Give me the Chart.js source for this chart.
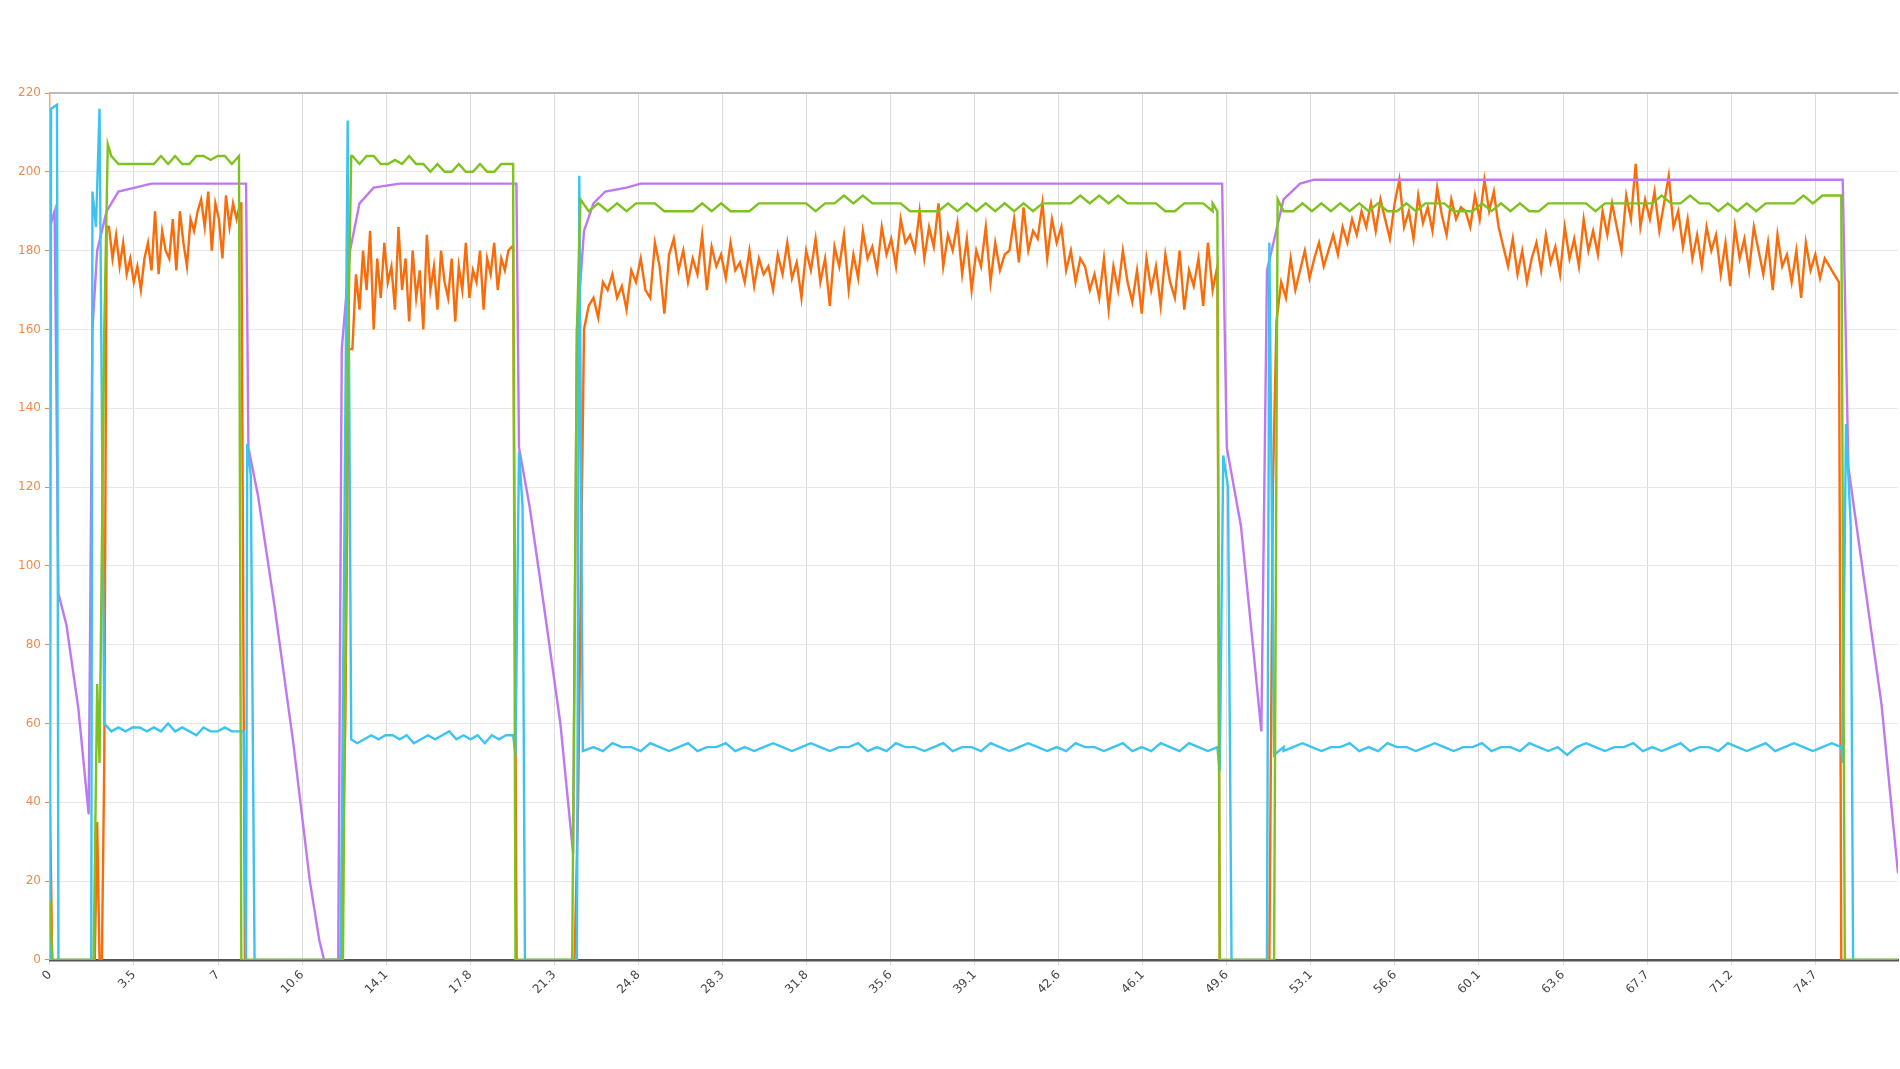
<!DOCTYPE html>
<html><head><meta charset="utf-8">
<script src="https://cdn.jsdelivr.net/npm/chart.js@4"></script>
<style>html,body{margin:0;padding:0;background:#fff}#wrap{width:1900px;height:1069px}</style>
</head><body><div id="wrap"><canvas id="c"></canvas></div>
<script>
const xTickValues=[0,3.5,7,10.6,14.1,17.8,21.3,24.8,28.3,31.8,35.6,39.1,42.6,46.1,49.6,53.1,56.6,60.1,63.6,67.7,71.2,74.7];
const xTickPos=[0,3.557,7.114,10.671,14.228,17.785,21.342,24.899,28.456,32.013,35.57,39.127,42.684,46.241,49.798,53.355,56.912,60.469,64.026,67.583,71.14,74.697];

// transitions [x,y]
const orangeEdges=[[[0,40],[0.1,0],[1.9,0],[2.0,35],[2.1,0],[2.2,0],[2.3,50],[2.4,186]],[[8.1,192],[8.25,0],[12.3,0],[12.5,60],[12.65,155]],[[19.6,181],[19.75,0],[22.0,0],[22.2,0],[22.35,40],[22.6,160]],[[49.4,176],[49.5,0],[51.6,0],[51.75,120],[51.9,162]],[[75.7,172],[75.8,0],[78.2,0]]];
const orangeStart=[2.5,12.8,22.6,51.9];
const orangeStep=[0.15,0.15,0.2,0.2];
const orangeSeg1=[186,178,184,176,182,174,178,172,176,170,178,182,175,190,174,185,180,178,188,175,190,182,176,188,185,190,193,186,195,180,192,188,178,194,186,192,188,192];
const orangeSeg2=[155,174,165,180,170,185,160,178,168,182,172,176,165,186,170,178,162,180,168,175,160,184,170,176,165,180,172,168,178,162,176,170,182,168,175,172,180,165,178,174,182,170,178,175,180,181];
const orangeSeg3=[160,166,168,163,172,170,174,168,171,165,175,172,178,170,168,182,176,164,179,183,175,180,172,178,174,184,170,181,176,179,173,182,175,177,172,180,171,178,174,176,170,179,174,182,173,177,168,180,175,183,172,178,166,181,176,184,170,179,173,185,178,181,175,186,179,183,176,188,182,184,180,190,178,186,181,192,176,184,180,187,174,183,170,180,176,186,172,182,175,179,180,188,177,191,180,185,183,192,178,188,182,186,175,180,172,178,176,170,174,168,178,165,176,170,180,172,167,175,164,178,170,176,166,179,172,168,180,165,175,171,178,166,182,170,176];
const orangeSeg4=[162,172,168,178,170,175,180,173,178,182,176,180,184,179,186,182,188,184,190,186,192,185,193,188,183,192,198,186,190,183,194,187,191,185,196,189,184,193,188,191,190,186,194,188,198,190,195,186,181,176,183,174,180,172,178,182,175,184,177,181,174,186,178,183,176,188,180,185,179,190,184,192,186,180,194,188,202,186,193,188,195,185,192,199,186,190,181,188,178,184,176,186,180,184,174,182,171,186,178,183,175,186,180,174,182,170,184,176,179,172,180,168,182,175,179,173,178,176,174,172];

const blueEdges=[[[0,0],[0.05,216],[0.3,217],[0.36,0],[1.75,0],[1.8,195],[1.95,186],[2.1,216],[2.3,60],[2.6,58]],[[8.2,58],[8.3,0],[8.35,131],[8.5,123],[8.66,0],[12.3,0],[12.45,100],[12.6,213],[12.75,56],[13.0,55]],[[19.6,57],[19.7,52],[19.85,129],[20.0,115],[20.1,0],[22.3,0],[22.4,199],[22.55,53],[23.0,54]],[[49.4,54],[49.5,48],[49.65,128],[49.85,120],[50.0,0],[51.5,0],[51.6,182],[51.8,52],[52.2,54]],[[75.8,54],[75.85,50],[76.0,136],[76.2,110],[76.3,0],[78.2,0]]];
const blueStart=[2.6,13.0,23.0,52.2];
const blueStep=[0.3,0.3,0.4,0.4];
const blueSeg1=[58,59,58,59,59,58,59,58,60,58,59,58,57,59,58,58,59,58,58];
const blueSeg2=[55,56,57,56,57,57,56,57,55,56,57,56,57,58,56,57,56,57,55,57,56,57,57];
const blueSeg3=[54,53,55,54,54,53,55,54,53,54,55,53,54,54,55,53,54,53,54,55,54,53,54,55,54,53,54,54,55,53,54,53,55,54,54,53,54,55,53,54,54,53,55,54,53,54,55,54,53,54,53,55,54,54,53,54,55,53,54,53,55,54,53,55,54,53,54];
const blueSeg4=[53,54,55,54,53,54,54,55,53,54,53,55,54,54,53,54,55,54,53,54,54,55,53,54,54,53,55,54,53,54,52,54,55,54,53,54,54,55,53,54,53,54,55,53,54,54,53,55,54,53,54,55,53,54,55,54,53,54,55,54];

const greenEdges=[[[0,15],[0.1,0],[1.85,0],[2.0,70],[2.1,50],[2.3,160],[2.45,207],[2.6,204]],[[8.0,204],[8.1,0],[12.4,0],[12.6,150],[12.75,204]],[[19.6,202],[19.7,0],[22.1,0],[22.3,160],[22.45,193],[22.8,190]],[[49.2,192],[49.4,190],[49.5,0],[51.8,0],[51.95,193],[52.2,190]],[[75.8,193],[75.95,0],[78.2,0]]];
const greenStart=[2.6,12.8,22.8,52.2];
const greenStep=[0.3,0.3,0.4,0.4];
const greenSeg1=[204,202,202,202,202,202,202,204,202,204,202,202,204,204,203,204,204,202,204];
const greenSeg2=[204,202,204,204,202,202,203,202,204,202,202,200,202,200,200,202,200,200,202,200,200,202,202];
const greenSeg3=[190,192,190,192,190,192,192,192,190,190,190,190,192,190,192,190,190,190,192,192,192,192,192,192,190,192,192,194,192,194,192,192,192,192,190,190,190,190,192,190,192,190,192,190,192,190,192,190,192,192,192,192,194,192,194,192,194,192,192,192,192,190,190,192,192,192,190];
const greenSeg4=[190,190,192,190,192,190,192,190,192,190,192,190,190,192,190,192,192,192,190,190,190,192,190,192,190,192,190,190,192,192,192,192,192,190,192,192,192,192,192,192,194,192,192,194,192,192,190,192,190,192,190,192,192,192,192,194,192,194,194,194];

const purplePts=[[0,186],[0.2,190],[0.36,93],[0.7,85],[1.2,64],[1.64,37],[1.8,160],[2.0,180],[2.4,190],[2.9,195],[3.6,196],[4.3,197],[8.3,197],[8.4,130],[8.8,118],[9.5,90],[10.3,55],[11.0,20],[11.4,5],[11.6,0],[12.2,0],[12.35,155],[12.7,180],[13.1,192],[13.7,196],[14.8,197],[19.74,197],[19.85,130],[20.3,115],[20.9,90],[21.6,60],[22.14,27],[22.3,160],[22.6,185],[23.0,192],[23.5,195],[24.4,196],[25.0,197],[49.6,197],[49.8,130],[50.4,110],[50.9,80],[51.26,58],[51.5,175],[52.2,193],[52.9,197],[53.5,198],[75.86,198],[76.1,125],[76.8,95],[77.5,65],[78.2,22]];

function build(edges,starts,steps,segs){
  const out=[];
  for(let k=0;k<edges.length;k++){
    edges[k].forEach(p=>out.push({x:p[0],y:p[1]}));
    if(k<segs.length){segs[k].forEach((v,i)=>out.push({x:+(starts[k]+steps[k]*i).toFixed(3),y:v}));}
  }
  return out.sort((a,b)=>a.x-b.x);
}
const orangeData=build(orangeEdges,orangeStart,orangeStep,[orangeSeg1,orangeSeg2,orangeSeg3,orangeSeg4]);
const blueData=build(blueEdges,blueStart,blueStep,[blueSeg1,blueSeg2,blueSeg3,blueSeg4]);
const greenData=build(greenEdges,greenStart,greenStep,[greenSeg1,greenSeg2,greenSeg3,greenSeg4]);
const purpleData=purplePts.map(p=>({x:p[0],y:p[1]}));

const ds=(d,c)=>({data:d,borderColor:c,borderWidth:2.4,pointRadius:0,tension:0,fill:false});
new Chart(document.getElementById('c'),{
  type:'line',
  data:{datasets:[ds(greenData,'#7dc21e'),ds(blueData,'#3cc3f2'),ds(purpleData,'#bf78f2'),ds(orangeData,'#fa6b0a')]},
  options:{
    responsive:true,maintainAspectRatio:false,animation:false,
    layout:{padding:{top:93,right:2,bottom:69,left:14}},
    plugins:{legend:{display:false},tooltip:{enabled:false}},
    scales:{
      x:{type:'linear',min:0,max:78.2,
        afterBuildTicks:s=>{s.ticks=xTickPos.map(v=>({value:v}));},
        ticks:{callback:(v,i)=>xTickValues[i],autoSkip:false,maxRotation:45,minRotation:45,color:'#444',font:{family:'DejaVu Sans',size:12}},
        grid:{color:'#dcdcdc',drawTicks:true,tickLength:5},
        border:{color:'#555',width:2.5}},
      y:{min:0,max:220,
        ticks:{stepSize:20,color:'#f08a4b',font:{family:'DejaVu Sans',size:12},padding:4},
        grid:{color:'#d8d8d8',tickLength:5,tickColor:'#f08a4b'},
        border:{color:'#f3a77a',width:1.5}},
      y2:{min:-7,max:213,display:true,position:'left',
        ticks:{stepSize:20,display:false},grid:{color:'#e2e2e2',drawTicks:false},border:{display:false}},
      y3:{min:-12,max:208,display:true,position:'left',
        ticks:{stepSize:20,display:false},grid:{color:'#e8e8e8',drawTicks:false},border:{display:false}}
    }
  },
  plugins:[{id:'topline',afterDraw(ch){const a=ch.chartArea,c=ch.ctx;c.save();c.strokeStyle='#bbb';c.lineWidth=2;c.beginPath();c.moveTo(a.left,a.top);c.lineTo(a.right,a.top);c.stroke();c.restore();}}]
});
</script></body></html>
